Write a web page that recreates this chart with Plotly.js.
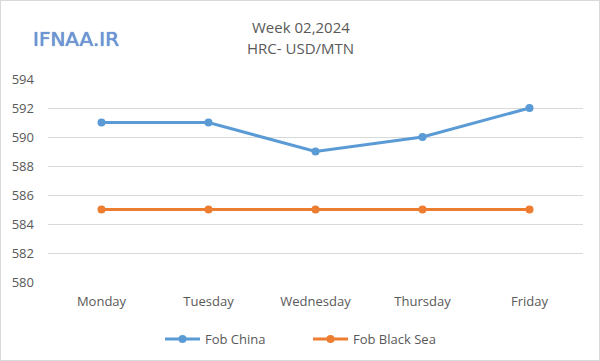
<!DOCTYPE html>
<html>
<head>
<meta charset="utf-8">
<script src="https://cdn.plot.ly/plotly-3.0.1.min.js"></script>
<style>
html,body{margin:0;padding:0;background:#fff;}
#wrap{position:relative;width:600px;height:361px;}
#chart{width:600px;height:361px;}
#frame{position:absolute;left:0;top:0;width:598px;height:359px;border:1px solid #d9d9d9;pointer-events:none;}
</style>
</head>
<body>
<div id="wrap"><div id="chart"></div><div id="frame"></div></div>
<script>
const days = ["Monday", "Tuesday", "Wednesday", "Thursday", "Friday"];
const fobChina = [591, 591, 589, 590, 592];
const fobBlackSea = [585, 585, 585, 585, 585];
const yTicks = [580, 582, 584, 586, 588, 590, 592, 594];
const titleLines = ["Week 02,2024", "HRC- USD/MTN"];

const font = "'Open Sans', 'Liberation Sans', sans-serif";
const grey = "#595959";
const traces = [
  {x: days, y: fobChina, name: "Fob China", type: "scatter", mode: "lines+markers",
   line: {color: "#5b9bd5", width: 3}, marker: {color: "#5b9bd5", size: 8}},
  {x: days, y: fobBlackSea, name: "Fob Black Sea", type: "scatter", mode: "lines+markers",
   line: {color: "#ed7d31", width: 3}, marker: {color: "#ed7d31", size: 8}}
];
const layout = {
  width: 600, height: 361,
  margin: {l: 48, r: 17, t: 79, b: 79},
  paper_bgcolor: "#fff", plot_bgcolor: "#fff",
  font: {family: font, size: 13, color: grey},
  xaxis: {type: "category", range: [-0.5, 4.5], showgrid: false, zeroline: false, showline: false, ticks: "",
          ticklabelstandoff: 10,
          tickfont: {family: font, size: 13, color: grey}, fixedrange: true, automargin: false},
  yaxis: {range: [580, 594], tickvals: yTicks, showgrid: true, gridcolor: "#d9d9d9", gridwidth: 1,
          zeroline: false, showline: false, ticks: "", ticklabelstandoff: 13, automargin: false,
          tickfont: {family: font, size: 13, color: grey}},
  showlegend: true,
  legend: {orientation: "h", xref: "container", yref: "container", x: 160 / 600, xanchor: "left", y: 0.061, yanchor: "middle",
           font: {family: font, size: 13, color: grey}, tracegroupgap: 0, itemwidth: 35,
           entrywidth: 98, entrywidthmode: "pixels"},
  annotations: [
    {text: titleLines[0], xref: "paper", yref: "paper", x: 0.472, y: (282 - 27) / 203, xanchor: "center", yanchor: "middle",
     showarrow: false, font: {family: font, size: 15, color: grey}},
    {text: titleLines[1], xref: "paper", yref: "paper", x: 0.472, y: (282 - 47.5) / 203, xanchor: "center", yanchor: "middle",
     showarrow: false, font: {family: font, size: 15, color: grey}},
    {text: "IFNAA.IR", xref: "paper", yref: "paper", x: (76 - 48) / 535, y: (282 - 39) / 203, xanchor: "center", yanchor: "middle",
     showarrow: false, font: {family: "'DejaVu Sans', sans-serif", size: 20, color: "#6e96d6",
     shadow: "0px 0px 1px #3d64a8"}}
  ]
};
Plotly.newPlot("chart", traces, layout, {displayModeBar: false, staticPlot: true});
</script>
</body>
</html>
